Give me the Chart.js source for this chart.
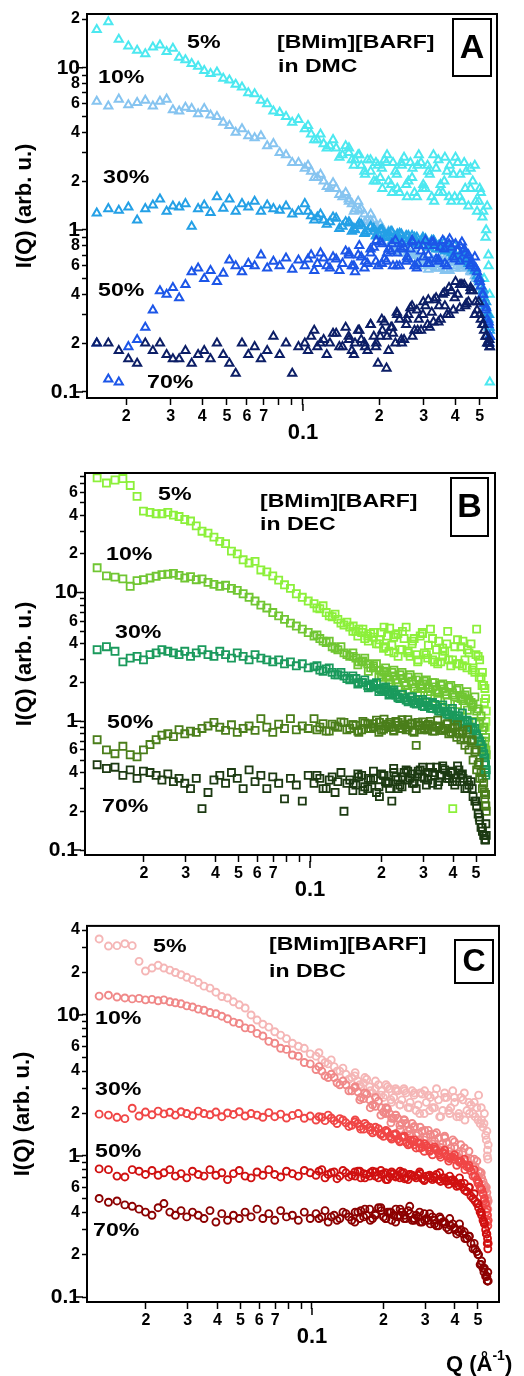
<!DOCTYPE html>
<html>
<head>
<meta charset="utf-8">
<script src="https://cdn.jsdelivr.net/npm/chart.js@4.4.1/dist/chart.umd.min.js"></script>
<style>
  html, body { margin: 0; padding: 0; background: #fff; }
  body { width: 524px; height: 1376px; position: relative; overflow: hidden; }
  canvas { position: absolute; left: 0; display: block; }
</style>
</head>
<body>
<canvas id="chart-a" width="524" height="460" style="top:0px"></canvas>
<canvas id="chart-b" width="524" height="460" style="top:460px"></canvas>
<canvas id="chart-c" width="524" height="456" style="top:920px"></canvas>
<script>
// Q values (A^-1) for each panel
const qA = [0.0153, 0.0170, 0.0187, 0.0204, 0.0221, 0.0238, 0.0255, 0.0272, 0.0289, 0.0306,
            0.0324, 0.0343, 0.0363, 0.0385, 0.0407, 0.0431, 0.0457, 0.0484, 0.0512, 0.0542,
            0.0574, 0.0608, 0.0644, 0.0682, 0.0722, 0.0764, 0.0809, 0.0857, 0.0907, 0.0960,
            0.1017, 0.1077, 0.1140, 0.1207, 0.1278, 0.1353, 0.1433, 0.1517, 0.1606, 0.1700,
            0.1800, 0.1906, 0.198, 0.206, 0.214, 0.223, 0.232, 0.241, 0.251, 0.261,
            0.271, 0.282, 0.293, 0.305, 0.317, 0.330, 0.343, 0.357, 0.371, 0.386,
            0.401, 0.417, 0.434, 0.451, 0.469, 0.488, 0.505, 0.520, 0.535, 0.548];
// extra high-Q readings (the data gets dense there)
const qAhi = [0.1047, 0.1108, 0.1173, 0.1242, 0.1315, 0.1393, 0.1475, 0.1561, 0.1653, 0.175,
              0.1853, 0.1943, 0.202, 0.210, 0.218, 0.227, 0.236, 0.246, 0.256, 0.266,
              0.276, 0.287, 0.299, 0.311, 0.323, 0.336, 0.350, 0.364, 0.378, 0.393,
              0.409, 0.425, 0.442, 0.460, 0.478, 0.496, 0.512, 0.527, 0.541, 0.545];

const qBC = [0.0127, 0.0139, 0.0151, 0.0163, 0.0175, 0.0187, 0.0199, 0.0212, 0.0225, 0.0238,
             0.0252, 0.0266, 0.0281, 0.0297, 0.0314, 0.0332, 0.0351, 0.0372, 0.0394, 0.0417,
             0.0441, 0.0467, 0.0494, 0.0523, 0.0554, 0.0587, 0.0621, 0.0658, 0.0697, 0.0738,
             0.0781, 0.0827, 0.0876, 0.0928, 0.0983, 0.104, 0.110, 0.117, 0.124, 0.131,
             0.139, 0.147, 0.156, 0.165, 0.175, 0.185, 0.196, 0.204, 0.212, 0.221,
             0.230, 0.239, 0.249, 0.259, 0.269, 0.280, 0.291, 0.303, 0.315, 0.328,
             0.341, 0.355, 0.369, 0.384, 0.399, 0.415, 0.432, 0.449, 0.467, 0.486,
             0.503, 0.518, 0.532, 0.545, 0.552];
const qBChi = [0.107, 0.1135, 0.1205, 0.1275, 0.135, 0.143, 0.1515, 0.1605, 0.170, 0.180,
               0.1905, 0.200, 0.208, 0.2165, 0.2255, 0.2345, 0.244, 0.254, 0.264, 0.2745,
               0.2855, 0.297, 0.309, 0.3215, 0.3345, 0.348, 0.362, 0.3765, 0.3915, 0.407,
               0.4235, 0.4405, 0.458, 0.4765, 0.4945, 0.5105, 0.525, 0.5385, 0.5485, 0.55];
// third set of readings in the crowded high-Q end, same Q for all panels
const qDense = [0.152, 0.159, 0.167, 0.176, 0.185, 0.195, 0.205, 0.215, 0.225, 0.235,
                0.245, 0.258, 0.270, 0.284, 0.298, 0.313, 0.328, 0.345, 0.362, 0.380,
                0.398, 0.418, 0.438, 0.460, 0.482, 0.500, 0.516, 0.530, 0.542, 0.547];

// panel A : [BMim][BARF] in DMC
const a5 = [17.2, 19.2, 15.0, 13.6, 12.8, 12.2, 13.4, 13.8, 12.6, 13.2,
            11.6, 11.2, 10.6, 10.2, 9.6, 9.2, 9.4, 8.6, 8.4, 7.9,
            7.6, 7.0, 6.9, 6.3, 6.0, 5.4, 5.3, 5.0, 4.6, 4.8,
            4.2, 3.9, 3.6, 3.4, 3.3, 3.2, 2.9, 3.0, 2.7, 2.5,
            2.7, 2.0, 2.5, 1.8, 2.6, 1.9, 2.3, 1.7, 2.8, 2.0,
            2.4, 1.6, 2.6, 1.8, 2.2, 1.5, 2.7, 1.7, 2.3, 1.5,
            2.8, 1.6, 2.6, 1.4, 2.0, 1.3, 1.7, 0.5, 1.4, 0.115];
const a5hi = [4.4, 3.6, 3.9, 3.2, 3.6, 2.8, 3.3, 2.7, 2.9, 2.3,
              2.3, 2.6, 2.1, 2.7, 2.0, 2.6, 1.8, 2.5, 1.9, 2.6,
              1.7, 2.9, 1.9, 2.5, 1.6, 2.4, 1.9, 2.8, 1.6, 2.2,
              2.6, 1.5, 2.3, 1.8, 2.5, 1.5, 1.2, 0.9, 0.7, 0.3];
const a5d = [3.2, 2.5, 2.9, 2.2, 2.7, 2.0, 2.4, 2.9, 1.7, 2.2,
             2.6, 1.6, 2.1, 2.5, 1.8, 2.3, 2.9, 1.7, 2.0, 2.5,
             1.6, 2.2, 1.8, 2.4, 1.5, 1.8, 1.3, 1.0, 0.6, 0.4];
const a10 = [6.2, 5.8, 6.4, 5.9, 6.1, 6.3, 5.8, 6.2, 6.4, 5.5,
             5.4, 5.7, 5.6, 5.2, 5.6, 5.1, 5.0, 4.6, 4.4, 4.0,
             4.2, 3.8, 3.7, 3.8, 3.3, 3.4, 3.0, 2.9, 2.6, 2.6,
             2.4, 2.3, 2.1, 2.0, 1.8, 1.8, 1.6, 1.55, 1.35, 1.35,
             1.15, 1.15, 1.0, 1.02, 0.9, 0.92, 0.8, 0.82, 0.72, 0.74,
             0.66, 0.7, 0.62, 0.66, 0.6, 0.64, 0.58, 0.62, 0.57, 0.63,
             0.58, 0.66, 0.6, 0.62, 0.55, 0.5, 0.45, 0.38, 0.3, 0.22];
const a10hi = [2.5, 2.1, 2.2, 1.85, 1.95, 1.65, 1.7, 1.45, 1.5, 1.25,
               1.25, 1.05, 1.08, 0.94, 0.98, 0.84, 0.88, 0.76, 0.78, 0.7,
               0.72, 0.64, 0.68, 0.6, 0.66, 0.58, 0.65, 0.56, 0.64, 0.6,
               0.67, 0.58, 0.64, 0.56, 0.52, 0.47, 0.42, 0.34, 0.27, 0.2];
const a10d = [1.5, 1.3, 1.32, 1.12, 1.14, 0.98, 1.0, 0.84, 0.86, 0.74,
              0.78, 0.66, 0.7, 0.6, 0.66, 0.57, 0.64, 0.58, 0.66, 0.56,
              0.63, 0.58, 0.65, 0.55, 0.5, 0.44, 0.36, 0.3, 0.25, 0.21];
const a30 = [1.27, 1.35, 1.32, 1.38, 1.15, 1.35, 1.42, 1.55, 1.30, 1.40,
             1.38, 1.45, 1.05, 1.35, 1.42, 1.28, 1.60, 1.36, 1.55, 1.30,
             1.45, 1.38, 1.50, 1.30, 1.42, 1.35, 1.32, 1.40, 1.25, 1.30,
             1.45, 1.22, 1.20, 1.15, 1.12, 1.18, 1.05, 1.10, 1.00, 1.08,
             0.98, 1.02, 0.95, 1.00, 0.92, 0.98, 0.90, 0.95, 0.88, 0.92,
             0.86, 0.90, 0.84, 0.88, 0.82, 0.85, 0.80, 0.78, 0.75, 0.72,
             0.70, 0.68, 0.65, 0.62, 0.58, 0.52, 0.45, 0.38, 0.30, 0.24];
const a30hi = [1.3, 1.15, 1.25, 1.08, 1.2, 1.02, 1.12, 0.98, 1.06, 0.95,
               1.05, 0.92, 1.0, 0.9, 0.96, 0.86, 0.94, 0.84, 0.92, 0.83,
               0.9, 0.8, 0.88, 0.78, 0.86, 0.76, 0.82, 0.74, 0.78, 0.7,
               0.74, 0.66, 0.7, 0.6, 0.56, 0.49, 0.42, 0.34, 0.28, 0.22];
const a30d = [1.12, 1.02, 1.1, 0.96, 1.04, 0.92, 1.0, 0.9, 0.97, 0.86,
              0.94, 0.84, 0.92, 0.82, 0.9, 0.8, 0.86, 0.76, 0.84, 0.74,
              0.8, 0.7, 0.74, 0.64, 0.58, 0.5, 0.43, 0.36, 0.3, 0.25];
const a50 = [0.20, 0.12, 0.115, 0.19, 0.21, 0.25, 0.32, 0.42, 0.40, 0.44,
             0.38, 0.46, 0.55, 0.58, 0.50, 0.56, 0.48, 0.54, 0.65, 0.60,
             0.55, 0.62, 0.60, 0.70, 0.58, 0.64, 0.60, 0.67, 0.57, 0.65,
             0.60, 0.70, 0.62, 0.67, 0.58, 0.66, 0.62, 0.70, 0.55, 0.68,
             0.62, 0.78, 0.60, 0.82, 0.64, 0.74, 0.86, 0.60, 0.78, 0.66,
             0.84, 0.58, 0.74, 0.86, 0.62, 0.80, 0.66, 0.86, 0.60, 0.78,
             0.82, 0.64, 0.76, 0.70, 0.62, 0.55, 0.45, 0.35, 0.28, 0.22];
const a50hi = [0.66, 0.56, 0.72, 0.6, 0.68, 0.56, 0.74, 0.6, 0.7, 0.58,
               0.72, 0.64, 0.84, 0.66, 0.76, 0.6, 0.72, 0.82, 0.64, 0.76,
               0.6, 0.8, 0.68, 0.62, 0.84, 0.66, 0.78, 0.62, 0.82, 0.68,
               0.74, 0.84, 0.66, 0.6, 0.68, 0.5, 0.4, 0.32, 0.26, 0.2];
const a50d = [0.72, 0.6, 0.8, 0.64, 0.76, 0.86, 0.62, 0.72, 0.82, 0.6,
              0.76, 0.68, 0.86, 0.62, 0.8, 0.7, 0.84, 0.64, 0.76, 0.88,
              0.66, 0.8, 0.72, 0.62, 0.58, 0.48, 0.4, 0.33, 0.27, 0.22];
const a70 = [0.20, 0.20, 0.18, 0.16, 0.15, 0.20, 0.18, 0.20, 0.17, 0.16,
             0.16, 0.18, 0.15, 0.17, 0.18, 0.16, 0.20, 0.17, 0.15, 0.13,
             0.20, 0.17, 0.19, 0.16, 0.18, 0.22, 0.17, 0.20, 0.13, 0.19,
             0.20, 0.22, 0.19, 0.21, 0.20, 0.23, 0.19, 0.22, 0.20, 0.21,
             0.18, 0.22, 0.15, 0.24, 0.14, 0.25, 0.20, 0.28, 0.21, 0.30,
             0.22, 0.32, 0.24, 0.34, 0.25, 0.37, 0.27, 0.40, 0.30, 0.42,
             0.48, 0.33, 0.46, 0.36, 0.42, 0.32, 0.28, 0.24, 0.20, 0.19];
const a70hi = [0.18, 0.24, 0.2, 0.17, 0.23, 0.19, 0.25, 0.18, 0.24, 0.2,
               0.26, 0.19, 0.22, 0.27, 0.18, 0.23, 0.3, 0.2, 0.26, 0.33,
               0.24, 0.28, 0.36, 0.26, 0.31, 0.38, 0.28, 0.34, 0.44, 0.32,
               0.4, 0.46, 0.35, 0.42, 0.3, 0.36, 0.26, 0.22, 0.2, 0.21];
const a70d = [0.21, 0.17, 0.24, 0.19, 0.26, 0.2, 0.28, 0.22, 0.25, 0.31,
              0.21, 0.28, 0.34, 0.24, 0.3, 0.37, 0.27, 0.34, 0.41, 0.3,
              0.38, 0.46, 0.34, 0.44, 0.36, 0.3, 0.26, 0.22, 0.2, 0.19];

// panel B : [BMim][BARF] in DEC
const b5 = [78, 71, 75, 77, 68, 56, 43, 42, 41, 41,
            42, 40, 39, 37, 36, 33, 30, 29, 27, 25,
            24, 21, 20, 18, 17, 17.5, 15, 14.5, 13.5, 12.5,
            11.5, 10.8, 9.8, 9.2, 8.6, 8.2, 7.5, 7.0, 6.5, 6.2,
            5.6, 5.4, 5.0, 4.9, 4.6, 4.5, 4.3, 3.7, 4.6, 3.9,
            4.7, 3.6, 4.4, 3.5, 4.0, 3.3, 4.6, 3.4, 3.9, 3.0,
            3.6, 2.9, 3.5, 3.0, 0.21, 2.8, 3.8, 3.0, 3.4, 2.6,
            5.2, 3.0, 2.4, 1.8, 1.2];
const b5hi = [7.6, 7.9, 6.6, 6.8, 5.8, 5.9, 5.0, 5.2, 4.4, 4.8,
              4.0, 4.9, 3.8, 5.3, 3.4, 4.8, 3.6, 5.4, 3.2, 4.4,
              3.0, 4.9, 3.3, 5.2, 2.9, 4.2, 3.2, 4.0, 2.7, 3.8,
              2.8, 4.2, 2.6, 4.0, 2.4, 3.2, 2.2, 1.9, 1.5, 1.0];
const b5d = [5.5, 4.6, 5.2, 4.2, 4.9, 4.0, 5.4, 3.5, 4.5, 3.2,
             5.0, 3.4, 4.2, 2.9, 4.8, 3.1, 4.4, 2.8, 3.7, 5.0,
             3.0, 4.3, 2.7, 3.6, 2.5, 3.3, 2.2, 1.9, 1.4, 0.9];
const b10 = [15.6, 13.5, 13.2, 12.8, 11.2, 12.4, 12.6, 13.0, 13.4, 13.8,
             13.9, 14.1, 13.6, 13.0, 13.3, 12.6, 12.8, 12.0, 11.6, 11.2,
             11.4, 10.8, 10.4, 9.8, 9.2, 8.6, 8.0, 7.6, 7.0, 6.6,
             6.2, 5.8, 5.5, 5.2, 4.9, 4.6, 4.4, 4.1, 3.8, 3.6,
             3.4, 3.2, 3.1, 2.9, 2.8, 2.6, 2.5, 2.4, 2.2, 2.4,
             2.1, 2.3, 2.0, 2.2, 1.95, 2.1, 1.9, 2.05, 1.8, 2.0,
             1.75, 1.9, 1.7, 1.85, 1.6, 1.75, 1.5, 1.6, 1.45, 1.35,
             1.2, 1.0, 0.85, 0.7, 0.55];
const b10hi = [4.7, 4.2, 4.2, 3.7, 3.8, 3.3, 3.4, 2.9, 3.1, 2.6,
               2.8, 2.3, 2.6, 2.1, 2.5, 2.0, 2.4, 1.9, 2.3, 1.8,
               2.2, 1.8, 2.1, 1.7, 2.0, 1.65, 1.95, 1.6, 1.9, 1.55,
               1.8, 1.45, 1.7, 1.4, 1.55, 1.25, 1.1, 0.9, 0.75, 0.6];
const b10d = [3.2, 2.75, 2.95, 2.45, 2.7, 2.2, 2.45, 2.0, 2.25, 1.85,
              2.15, 1.75, 2.05, 1.65, 1.95, 1.58, 1.85, 1.5, 1.78, 1.42,
              1.66, 1.35, 1.55, 1.22, 1.3, 1.0, 0.95, 0.7, 0.62, 0.48];
const b30 = [3.6, 3.8, 3.5, 2.9, 3.1, 3.2, 3.0, 3.3, 3.4, 3.6,
             3.5, 3.4, 3.3, 3.5, 3.2, 3.4, 3.6, 3.3, 3.2, 3.5,
             3.3, 3.1, 3.4, 3.2, 3.0, 3.3, 3.1, 3.0, 2.9, 3.0,
             2.8, 2.9, 2.7, 2.8, 2.6, 2.65, 2.5, 2.55, 2.4, 2.3,
             2.25, 2.1, 2.15, 2.0, 1.9, 1.95, 1.8, 1.75, 1.7, 1.65,
             1.6, 1.5, 1.52, 1.42, 1.45, 1.36, 1.4, 1.3, 1.33, 1.26,
             1.25, 1.2, 1.18, 1.12, 1.08, 1.05, 1.0, 0.95, 0.9, 0.85,
             0.78, 0.7, 0.62, 0.52, 0.42];
const b30hi = [2.7, 2.45, 2.6, 2.3, 2.4, 2.15, 2.25, 2.0, 2.1, 1.85,
               2.0, 1.75, 1.85, 1.62, 1.75, 1.55, 1.62, 1.46, 1.55, 1.38,
               1.48, 1.32, 1.42, 1.26, 1.35, 1.2, 1.28, 1.14, 1.2, 1.06,
               1.1, 0.98, 1.02, 0.9, 0.88, 0.74, 0.66, 0.56, 0.46, 0.38];
const b30d = [2.15, 1.95, 2.0, 1.82, 1.9, 1.7, 1.8, 1.6, 1.7, 1.52,
              1.62, 1.46, 1.55, 1.38, 1.48, 1.32, 1.4, 1.25, 1.34, 1.2,
              1.26, 1.1, 1.16, 1.0, 0.98, 0.8, 0.7, 0.58, 0.48, 0.4];
const b50 = [0.72, 0.60, 0.56, 0.64, 0.55, 0.53, 0.60, 0.66, 0.72, 0.78,
             0.80, 0.76, 0.86, 0.80, 0.84, 0.82, 0.88, 0.92, 0.98, 0.90,
             0.85, 0.94, 0.82, 0.88, 0.92, 0.85, 1.05, 0.90, 0.82, 0.95,
             0.88, 1.05, 0.86, 0.92, 0.88, 1.05, 0.90, 0.84, 0.95, 0.90,
             0.98, 0.88, 0.93, 0.86, 0.95, 0.90, 0.98, 0.87, 0.95, 0.90,
             1.00, 0.88, 0.94, 0.90, 0.97, 0.65, 0.92, 0.88, 0.95, 0.84,
             0.90, 0.85, 0.88, 0.80, 0.82, 0.75, 0.72, 0.65, 0.60, 0.50,
             0.42, 0.36, 0.30, 0.25, 0.20];
const b50hi = [0.86, 0.96, 0.84, 0.92, 0.99, 0.86, 0.94, 0.82, 0.97, 0.88,
               1.02, 0.85, 0.92, 0.98, 0.84, 0.93, 1.03, 0.86, 0.95, 0.82,
               0.98, 0.86, 0.93, 1.0, 0.84, 0.92, 0.86, 0.95, 0.82, 0.9,
               0.8, 0.84, 0.72, 0.7, 0.58, 0.46, 0.4, 0.33, 0.27, 0.22];
const b50d = [0.94, 0.84, 1.0, 0.88, 0.96, 0.82, 1.04, 0.9, 0.85, 0.98,
              0.88, 1.03, 0.84, 0.94, 0.99, 0.86, 0.92, 1.02, 0.85, 0.96,
              0.88, 0.94, 0.8, 0.86, 0.72, 0.6, 0.48, 0.36, 0.28, 0.22];
const b70 = [0.46, 0.43, 0.44, 0.38, 0.42, 0.36, 0.41, 0.40, 0.38, 0.35,
             0.39, 0.34, 0.36, 0.33, 0.30, 0.36, 0.21, 0.28, 0.35, 0.38,
             0.33, 0.40, 0.36, 0.30, 0.42, 0.34, 0.38, 0.30, 0.37, 0.33,
             0.25, 0.36, 0.32, 0.24, 0.38, 0.33, 0.36, 0.30, 0.37, 0.34,
             0.20, 0.35, 0.32, 0.38, 0.30, 0.36, 0.26, 0.38, 0.33, 0.24,
             0.37, 0.32, 0.40, 0.35, 0.39, 0.30, 0.42, 0.36, 0.40, 0.33,
             0.44, 0.38, 0.42, 0.36, 0.41, 0.34, 0.38, 0.30, 0.32, 0.26,
             0.22, 0.17, 0.14, 0.12, 0.13];
const b70hi = [0.38, 0.3, 0.35, 0.28, 0.4, 0.33, 0.29, 0.37, 0.31, 0.35,
               0.28, 0.39, 0.34, 0.3, 0.4, 0.35, 0.31, 0.42, 0.36, 0.33,
               0.41, 0.37, 0.32, 0.44, 0.38, 0.34, 0.45, 0.36, 0.4, 0.32,
               0.42, 0.36, 0.3, 0.34, 0.24, 0.19, 0.15, 0.13, 0.12, 0.16];
const b70d = [0.33, 0.39, 0.29, 0.36, 0.41, 0.31, 0.38, 0.34, 0.43, 0.3,
              0.37, 0.41, 0.33, 0.39, 0.44, 0.35, 0.4, 0.32, 0.43, 0.38,
              0.34, 0.45, 0.39, 0.35, 0.3, 0.24, 0.18, 0.15, 0.13, 0.12];

// panel C : [BMim][BARF] in DBC
const c5 = [34.6, 30.8, 31.0, 32.0, 31.0, 24.0, 20.5, 21.5, 22.5, 21.5,
            20.8, 20.0, 19.3, 18.5, 17.8, 17.0, 16.0, 15.5, 14.5, 13.5,
            13.2, 12.4, 11.8, 11.2, 10.0, 9.2, 8.6, 8.2, 7.6, 7.2,
            6.8, 6.3, 6.0, 5.8, 5.3, 5.1, 4.8, 4.5, 4.3, 4.0,
            3.8, 3.6, 3.4, 3.3, 3.1, 3.0, 2.9, 2.7, 3.0, 2.6,
            2.9, 2.5, 2.8, 2.4, 2.7, 2.3, 2.75, 2.4, 2.6, 2.2,
            2.5, 2.1, 2.6, 2.2, 2.4, 2.0, 2.5, 2.1, 2.3, 1.9,
            2.7, 1.8, 2.0, 1.5, 1.2];
const c5hi = [5.4, 4.6, 4.8, 4.0, 4.2, 3.5, 3.7, 3.1, 3.5, 2.8,
              3.2, 2.6, 3.1, 2.4, 2.9, 2.3, 3.0, 2.2, 2.9, 2.1,
              2.8, 2.0, 2.7, 2.2, 3.0, 1.9, 2.6, 2.1, 2.9, 1.9,
              2.6, 1.8, 2.4, 2.0, 2.2, 1.7, 1.6, 1.4, 1.1, 0.95];
const c5d = [3.9, 3.2, 3.6, 2.9, 3.4, 2.7, 3.2, 2.5, 3.0, 2.3,
             2.9, 2.2, 2.8, 2.0, 2.9, 2.1, 2.7, 1.9, 2.8, 2.0,
             2.6, 1.9, 2.8, 2.0, 2.4, 1.8, 2.2, 1.7, 1.3, 1.0];
const c10 = [13.6, 13.8, 13.4, 13.2, 13.0, 13.1, 12.8, 12.9, 12.6, 12.8,
             12.4, 12.2, 12.0, 11.6, 11.4, 11.0, 10.8, 10.4, 10.2, 9.8,
             9.4, 8.9, 8.7, 8.1, 8.0, 7.4, 7.1, 6.5, 6.3, 5.8,
             5.7, 5.2, 5.1, 4.6, 4.5, 4.1, 4.0, 3.6, 3.6, 3.2,
             3.2, 2.9, 2.85, 2.55, 2.5, 2.25, 2.2, 2.0, 2.0, 1.85,
             1.85, 1.7, 1.7, 1.55, 1.6, 1.45, 1.5, 1.36, 1.42, 1.28,
             1.34, 1.22, 1.24, 1.14, 1.16, 1.04, 1.06, 0.94, 0.95, 0.84,
             0.78, 0.7, 0.62, 0.55, 0.48];
const c10hi = [4.3, 3.7, 3.8, 3.3, 3.4, 2.9, 3.05, 2.6, 2.75, 2.3,
               2.45, 2.05, 2.15, 1.85, 1.95, 1.65, 1.8, 1.5, 1.7, 1.4,
               1.6, 1.3, 1.52, 1.22, 1.46, 1.15, 1.38, 1.08, 1.3, 1.0,
               1.2, 0.92, 1.08, 0.86, 0.92, 0.76, 0.66, 0.58, 0.5, 0.42];
const c10d = [3.1, 2.5, 2.8, 2.2, 2.6, 1.95, 2.2, 1.72, 1.95, 1.55,
              1.8, 1.42, 1.62, 1.3, 1.52, 1.2, 1.42, 1.1, 1.34, 1.02,
              1.26, 0.94, 1.14, 0.84, 0.95, 0.72, 0.76, 0.58, 0.6, 0.46];
const c30 = [1.98, 1.95, 1.88, 1.84, 2.18, 1.92, 2.05, 1.96, 2.08, 1.99,
             2.04, 1.95, 2.06, 2.00, 1.93, 2.08, 2.00, 1.96, 2.05, 1.90,
             2.02, 1.97, 2.06, 1.92, 2.00, 1.95, 1.88, 2.03, 1.90, 1.98,
             1.86, 1.94, 2.00, 1.85, 1.92, 1.80, 1.88, 1.95, 1.78, 1.84,
             1.72, 1.65, 1.70, 1.55, 1.60, 1.50, 1.45, 1.50, 1.38, 1.42,
             1.32, 1.36, 1.25, 1.30, 1.20, 1.24, 1.15, 1.18, 1.10, 1.12,
             1.05, 1.06, 1.00, 0.98, 0.95, 0.92, 0.88, 0.84, 0.78, 0.72,
             0.65, 0.58, 0.50, 0.42, 0.35];
const c30hi = [1.9, 1.78, 1.86, 1.7, 1.8, 1.62, 1.74, 1.55, 1.64, 1.46,
               1.56, 1.38, 1.48, 1.32, 1.42, 1.26, 1.36, 1.2, 1.28, 1.14,
               1.22, 1.08, 1.15, 1.02, 1.1, 0.98, 1.04, 0.92, 0.98, 0.86,
               0.92, 0.8, 0.86, 0.72, 0.68, 0.6, 0.54, 0.46, 0.38, 0.32];
const c30d = [1.8, 1.62, 1.7, 1.52, 1.6, 1.42, 1.52, 1.35, 1.44, 1.28,
              1.38, 1.22, 1.3, 1.14, 1.22, 1.08, 1.16, 1.02, 1.1, 0.96,
              1.02, 0.9, 0.95, 0.82, 0.8, 0.64, 0.58, 0.48, 0.4, 0.34];
const c50 = [0.81, 0.80, 0.72, 0.71, 0.80, 0.78, 0.74, 0.79, 0.73, 0.76,
             0.80, 0.72, 0.75, 0.70, 0.78, 0.74, 0.72, 0.80, 0.73, 0.76,
             0.68, 0.75, 0.79, 0.72, 0.70, 0.77, 0.73, 0.80, 0.74, 0.71,
             0.78, 0.75, 0.72, 0.79, 0.76, 0.73, 0.80, 0.74, 0.77, 0.72,
             0.76, 0.73, 0.78, 0.75, 0.72, 0.77, 0.74, 0.76, 0.71, 0.75,
             0.73, 0.76, 0.70, 0.74, 0.72, 0.73, 0.69, 0.72, 0.70, 0.71,
             0.68, 0.70, 0.66, 0.67, 0.64, 0.62, 0.60, 0.56, 0.52, 0.48,
             0.43, 0.38, 0.33, 0.28, 0.24];
const c50hi = [0.78, 0.7, 0.76, 0.69, 0.79, 0.71, 0.77, 0.7, 0.74, 0.78,
               0.7, 0.75, 0.68, 0.77, 0.72, 0.7, 0.76, 0.68, 0.73, 0.7,
               0.75, 0.67, 0.72, 0.68, 0.74, 0.66, 0.7, 0.63, 0.68, 0.61,
               0.64, 0.57, 0.6, 0.5, 0.46, 0.4, 0.35, 0.3, 0.26, 0.22];
const c50d = [0.72, 0.78, 0.7, 0.76, 0.72, 0.79, 0.68, 0.75, 0.71, 0.78,
              0.69, 0.74, 0.72, 0.77, 0.68, 0.73, 0.7, 0.76, 0.67, 0.72,
              0.66, 0.7, 0.64, 0.6, 0.54, 0.46, 0.4, 0.34, 0.28, 0.24];
const c70 = [0.50, 0.47, 0.48, 0.45, 0.44, 0.42, 0.40, 0.38, 0.43, 0.46,
             0.40, 0.38, 0.41, 0.37, 0.40, 0.38, 0.36, 0.41, 0.34, 0.39,
             0.35, 0.38, 0.36, 0.40, 0.37, 0.42, 0.36, 0.39, 0.35, 0.41,
             0.37, 0.38, 0.35, 0.40, 0.36, 0.39, 0.37, 0.34, 0.38, 0.36,
             0.39, 0.35, 0.40, 0.37, 0.42, 0.38, 0.41, 0.36, 0.40, 0.38,
             0.37, 0.40, 0.36, 0.39, 0.35, 0.37, 0.34, 0.36, 0.33, 0.35,
             0.32, 0.34, 0.31, 0.32, 0.30, 0.29, 0.28, 0.26, 0.24, 0.22,
             0.20, 0.18, 0.16, 0.14, 0.13];
const c70hi = [0.36, 0.41, 0.37, 0.35, 0.4, 0.37, 0.34, 0.41, 0.38, 0.36,
               0.43, 0.37, 0.4, 0.35, 0.42, 0.38, 0.36, 0.41, 0.35, 0.38,
               0.34, 0.39, 0.35, 0.37, 0.32, 0.36, 0.33, 0.3, 0.33, 0.28,
               0.3, 0.26, 0.27, 0.22, 0.21, 0.17, 0.16, 0.14, 0.13, 0.15];
const c70d = [0.4, 0.36, 0.42, 0.35, 0.39, 0.43, 0.36, 0.4, 0.34, 0.42,
              0.38, 0.44, 0.36, 0.4, 0.35, 0.39, 0.33, 0.37, 0.34, 0.36,
              0.31, 0.33, 0.29, 0.27, 0.24, 0.2, 0.17, 0.15, 0.14, 0.13];

const seriesNames = ['5%', '10%', '30%', '50%', '70%'];

// tick values and their printed labels
const xTicks = [0.02, 0.03, 0.04, 0.05, 0.06, 0.07, 0.08, 0.09, 0.1, 0.2, 0.3, 0.4, 0.5];
const xLabels = ['2', '3', '4', '5', '6', '7', '', '', ['', '0.1'], '2', '3', '4', '5'];

const yTicksA = [0.1, 0.2, 0.3, 0.4, 0.5, 0.6, 0.7, 0.8, 0.9, 1, 2, 3, 4, 5, 6, 7, 8, 9, 10, 20];
const yLabelsA = ['0.1', '2', '', '4', '', '6', '', '8', '', '1', '2', '', '4', '', '6', '', '8', '', '10', '2'];
const yTicksB = [0.1, 0.2, 0.3, 0.4, 0.5, 0.6, 0.7, 0.8, 0.9, 1, 2, 3, 4, 5, 6, 7, 8, 9, 10, 20, 30, 40, 50, 60, 70, 80];
const yLabelsB = ['0.1', '2', '', '4', '', '6', '', '', '', '1', '2', '', '4', '', '6', '', '', '', '10', '2', '', '4', '', '6', '', ''];
const yTicksC = [0.1, 0.2, 0.3, 0.4, 0.5, 0.6, 0.7, 0.8, 0.9, 1, 2, 3, 4, 5, 6, 7, 8, 9, 10, 20, 30, 40];
const yLabelsC = ['0.1', '2', '', '4', '', '6', '', '', '', '1', '2', '', '4', '', '6', '', '', '', '10', '2', '', '4'];
const decades = [0.1, 1, 10];

const FONT = '"Liberation Sans", Arial, Helvetica, sans-serif';

// draw bold text stretched horizontally (the figure's lettering is wide)
function wideText(ctx, txt, x, y, size, sx) {
    ctx.save();
    ctx.translate(x, y);
    ctx.scale(sx, 1);
    ctx.font = 'bold ' + size + 'px ' + FONT;
    ctx.textAlign = 'left';
    ctx.textBaseline = 'middle';
    ctx.fillStyle = '#000';
    ctx.fillText(txt, 0, 0);
    ctx.restore();
}

// frame, longer decade ticks, annotations and panel letter
const decor = {
    id: 'decor',
    afterDraw(chart, args, opts) {
        const ctx = chart.ctx;
        const a = chart.chartArea;
        const xs = chart.scales.x;
        const ys = chart.scales.y;
        ctx.save();
        ctx.strokeStyle = '#000';
        ctx.lineWidth = 2;
        ctx.strokeRect(a.left, a.top, a.right - a.left, a.bottom - a.top);

        ctx.lineWidth = 1.5;
        ctx.beginPath();
        decades.forEach(v => {
            const p = ys.getPixelForValue(v);
            ctx.moveTo(a.left - 11, p);
            ctx.lineTo(a.left - 4, p);
        });
        const px = xs.getPixelForValue(0.1);
        ctx.moveTo(px, a.bottom + 6);
        ctx.lineTo(px, a.bottom + 13);
        ctx.stroke();

        opts.labels.forEach(l => wideText(ctx, l.text, l.x, l.y, l.size || 19, l.sx || 1.22));

        const b = opts.box;
        ctx.lineWidth = 2;
        ctx.strokeRect(b.x, b.y, b.w, b.h);
        ctx.font = 'bold ' + b.size + 'px ' + FONT;
        ctx.textAlign = 'center';
        ctx.textBaseline = 'middle';
        ctx.fillStyle = '#000';
        ctx.fillText(b.letter, b.x + b.w / 2, b.y + b.h / 2 + 1);

        if (opts.qTitle) {
            ctx.textAlign = 'left';
            ctx.textBaseline = 'alphabetic';
            ctx.font = 'bold 22px ' + FONT;
            let x = 446;
            const y = 451;
            ctx.fillText('Q (Å', x, y);
            x += ctx.measureText('Q (Å').width;
            ctx.font = 'bold 14px ' + FONT;
            ctx.fillText('-1', x, y - 11);
            x += ctx.measureText('-1').width;
            ctx.font = 'bold 22px ' + FONT;
            ctx.fillText(')', x, y);
        }
        ctx.restore();
    }
};

function toPoints(qs, vals) {
    return qs.map((q, j) => ({ x: q, y: vals[j] }));
}

// p.sets: [{ q: [...], s: [series0, series1, ...] }, ...]
function buildPanel(id, p) {
    const ctx = document.getElementById(id).getContext('2d');
    const n = seriesNames.length;
    return new Chart(ctx, {
        type: 'scatter',
        data: {
            datasets: seriesNames.map((name, i) => ({
                label: name,
                data: [].concat(...p.sets.map(set => toPoints(set.q, set.s[i]))),
                pointStyle: p.marker,
                pointRadius: p.radius,
                borderWidth: p.stroke,
                borderColor: p.colors[i],
                backgroundColor: 'rgba(0,0,0,0)',
                order: n - 1 - i
            }))
        },
        options: {
            responsive: false,
            animation: false,
            events: [],
            layout: { padding: { top: p.top, right: p.right, bottom: 0, left: 0 } },
            plugins: {
                legend: { display: false },
                tooltip: { enabled: false },
                decor: p.decor
            },
            scales: {
                x: {
                    type: 'logarithmic',
                    position: 'bottom',
                    min: p.xMin,
                    max: p.xMax,
                    afterBuildTicks: s => { s.ticks = xTicks.map(v => ({ value: v })); },
                    afterFit: s => { s.height = p.xHeight; s.paddingLeft = 0; s.paddingRight = 0; },
                    ticks: {
                        autoSkip: false,
                        maxRotation: 0,
                        minRotation: 0,
                        padding: 2,
                        color: '#000',
                        callback: (v, i) => xLabels[i],
                        font: c => (c.tick && c.tick.value === 0.1)
                            ? { family: FONT, weight: 'bold', size: 22, lineHeight: 0.8 }
                            : { family: FONT, weight: 'bold', size: 16 }
                    },
                    grid: { drawOnChartArea: false, tickLength: 7, tickColor: '#000', tickWidth: 1.5 },
                    border: { color: '#000', width: 2 }
                },
                y: {
                    type: 'logarithmic',
                    position: 'left',
                    min: p.yMin,
                    max: p.yMax,
                    afterBuildTicks: s => { s.ticks = p.yTicks.map(v => ({ value: v })); },
                    afterFit: s => { s.width = p.yWidth; s.paddingTop = 0; s.paddingBottom = 0; },
                    ticks: {
                        autoSkip: false,
                        padding: 2,
                        color: '#000',
                        callback: (v, i) => p.yLabels[i],
                        font: c => (c.tick && decades.includes(c.tick.value))
                            ? { family: FONT, weight: 'bold', size: 21 }
                            : { family: FONT, weight: 'bold', size: 16 }
                    },
                    grid: { drawOnChartArea: false, tickLength: 5, tickColor: '#000', tickWidth: 1.5 },
                    border: { color: '#000', width: 2 },
                    title: {
                        display: true,
                        text: 'I(Q) (arb. u.)',
                        color: '#000',
                        font: { family: FONT, weight: 'bold', size: 22 },
                        padding: { top: p.titlePad, bottom: 0 }
                    }
                }
            }
        },
        plugins: [decor]
    });
}

buildPanel('chart-a', {
    sets: [
        { q: qA, s: [a5, a10, a30, a50, a70] },
        { q: qAhi, s: [a5hi, a10hi, a30hi, a50hi, a70hi] },
        { q: qDense, s: [a5d, a10d, a30d, a50d, a70d] }
    ],
    colors: ['#4ce8f0', '#86c4f0', '#24a0e6', '#1c56e8', '#0c1e66'],
    marker: 'triangle', radius: 4.7, stroke: 2,
    xMin: 0.0140, xMax: 0.585, yMin: 0.0918, yMax: 21.5,
    yTicks: yTicksA, yLabels: yLabelsA,
    top: 14, right: 27, xHeight: 62, yWidth: 87, titlePad: 12,
    decor: {
        labels: [
            { text: '5%', x: 187, y: 43 }, { text: '10%', x: 98, y: 78 },
            { text: '30%', x: 103, y: 178 }, { text: '50%', x: 98, y: 291 },
            { text: '70%', x: 147, y: 383 },
            { text: '[BMim][BARF]', x: 277, y: 43, size: 18, sx: 1.28 },
            { text: 'in DMC', x: 278, y: 67, size: 18, sx: 1.28 }
        ],
        box: { x: 453, y: 19, w: 38, h: 57, letter: 'A', size: 34 }
    }
});

buildPanel('chart-b', {
    sets: [
        { q: qBC, s: [b5, b10, b30, b50, b70] },
        { q: qBChi, s: [b5hi, b10hi, b30hi, b50hi, b70hi] },
        { q: qDense, s: [b5d, b10d, b30d, b50d, b70d] }
    ],
    colors: ['#8cf03a', '#70c632', '#1a9a5c', '#4a7e1a', '#1c3a12'],
    marker: 'rect', radius: 5, stroke: 1.8,
    xMin: 0.01129, xMax: 0.601, yMin: 0.0915, yMax: 85,
    yTicks: yTicksB, yLabels: yLabelsB,
    top: 13, right: 29, xHeight: 65, yWidth: 85, titlePad: 12,
    decor: {
        labels: [
            { text: '5%', x: 158, y: 35 }, { text: '10%', x: 106, y: 95 },
            { text: '30%', x: 115, y: 173 }, { text: '50%', x: 107, y: 263 },
            { text: '70%', x: 102, y: 347 },
            { text: '[BMim][BARF]', x: 260, y: 42, size: 18, sx: 1.28 },
            { text: 'in DEC', x: 260, y: 65, size: 18, sx: 1.28 }
        ],
        box: { x: 451, y: 18, w: 37, h: 58, letter: 'B', size: 34 }
    }
});

buildPanel('chart-c', {
    sets: [
        { q: qBC, s: [c5, c10, c30, c50, c70] },
        { q: qBChi, s: [c5hi, c10hi, c30hi, c50hi, c70hi] },
        { q: qDense, s: [c5d, c10d, c30d, c50d, c70d] }
    ],
    colors: ['#f5b6b6', '#f08888', '#f04646', '#d01010', '#8c0000'],
    marker: 'circle', radius: 3.5, stroke: 1.9,
    xMin: 0.01129, xMax: 0.613, yMin: 0.0922, yMax: 42.8,
    yTicks: yTicksC, yLabels: yLabelsC,
    top: 5, right: 25, xHeight: 74, yWidth: 87, titlePad: 10,
    decor: {
        labels: [
            { text: '5%', x: 153, y: 27 }, { text: '10%', x: 95, y: 99 },
            { text: '30%', x: 95, y: 170 }, { text: '50%', x: 95, y: 232 },
            { text: '70%', x: 93, y: 311 },
            { text: '[BMim][BARF]', x: 269, y: 25, size: 18, sx: 1.28 },
            { text: 'in DBC', x: 269, y: 52, size: 18, sx: 1.28 }
        ],
        box: { x: 455, y: 20, w: 38, h: 43, letter: 'C', size: 32 },
        qTitle: true
    }
});
</script>
</body>
</html>
